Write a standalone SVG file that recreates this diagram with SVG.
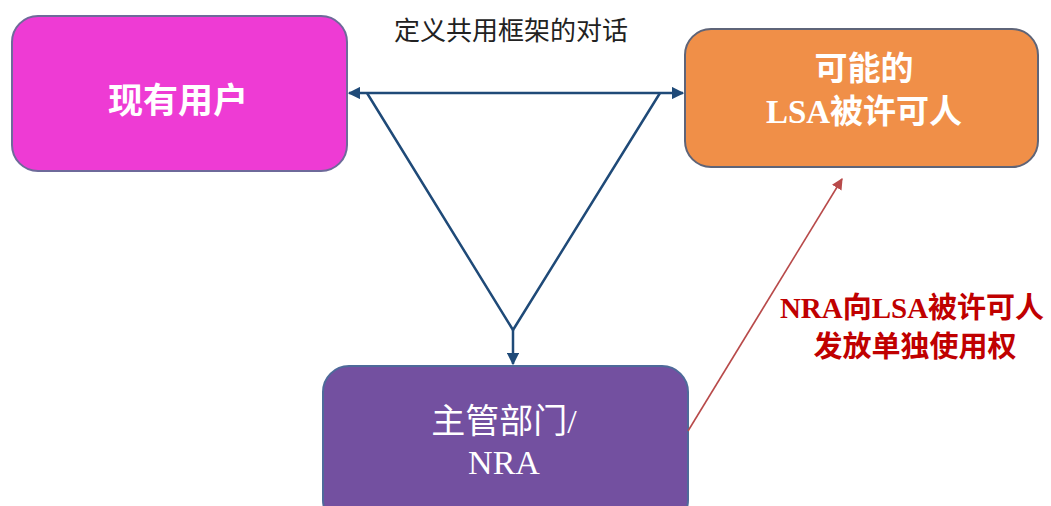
<svg xmlns="http://www.w3.org/2000/svg" width="1051" height="506" viewBox="0 0 1051 506">
<style>
.box{stroke-width:2}
.lbl{fill:#fff;text-anchor:middle}
.sans{font-family:"Noto Sans CJK SC","Liberation Sans",sans-serif}
.serif{font-family:"Liberation Serif","Noto Sans CJK SC",serif}
.blue{stroke:#1F4A78;stroke-width:2.5;fill:none}
</style>
<defs>
<marker id="ab" viewBox="0 0 10 10" refX="9" refY="5" markerWidth="5" markerHeight="5" orient="auto-start-reverse"><path d="M0,0L10,5L0,10z" fill="#1F4A78"/></marker>
<marker id="ar" viewBox="0 0 10 10" refX="9" refY="5" markerWidth="7" markerHeight="7" orient="auto"><path d="M0,0L10,5L0,10z" fill="#B84A4A"/></marker>
</defs>
<rect width="1051" height="506" fill="#fff"/>
<g id="node-users">
<rect class="box" x="12" y="16" width="335" height="155" rx="26" fill="#EE3BD4" stroke="#6E6A9A"/>
<text class="lbl sans" x="178" y="113" font-size="35" font-weight="bold">现有用户</text>
</g>
<g id="node-lsa">
<rect class="box" x="685" y="29" width="353" height="138" rx="26" fill="#F08F48" stroke="#5E6478"/>
<text class="lbl serif" x="864" y="80" font-size="33" font-weight="bold">可能的</text>
<text class="lbl serif" x="864" y="123" font-size="33" font-weight="bold">LSA被许可人</text>
</g>
<g id="node-nra">
<rect class="box" x="323" y="366" width="365" height="160" rx="26" fill="#7350A0" stroke="#4E6A9A"/>
<text class="lbl serif" x="504" y="433" font-size="34">主管部门/</text>
<text class="lbl serif" x="504" y="474" font-size="34">NRA</text>
</g>
<g id="connectors">
<line class="blue" x1="349" y1="93" x2="683" y2="93" marker-start="url(#ab)" marker-end="url(#ab)"/>
<polyline class="blue" points="367,93 513,330 660,93"/>
<line class="blue" x1="513" y1="330" x2="513" y2="364" marker-end="url(#ab)"/>
<line x1="688" y1="431" x2="842" y2="179" stroke="#B84A4A" stroke-width="1.6" marker-end="url(#ar)"/>
</g>
<g id="labels">
<text class="sans" x="511" y="40" font-size="26" fill="#222" text-anchor="middle">定义共用框架的对话</text>
<text class="serif" x="912" y="318" font-size="29" font-weight="bold" fill="#C00000" text-anchor="middle">NRA向LSA被许可人</text>
<text class="serif" x="915" y="357" font-size="29" font-weight="bold" fill="#C00000" text-anchor="middle">发放单独使用权</text>
</g>
</svg>
